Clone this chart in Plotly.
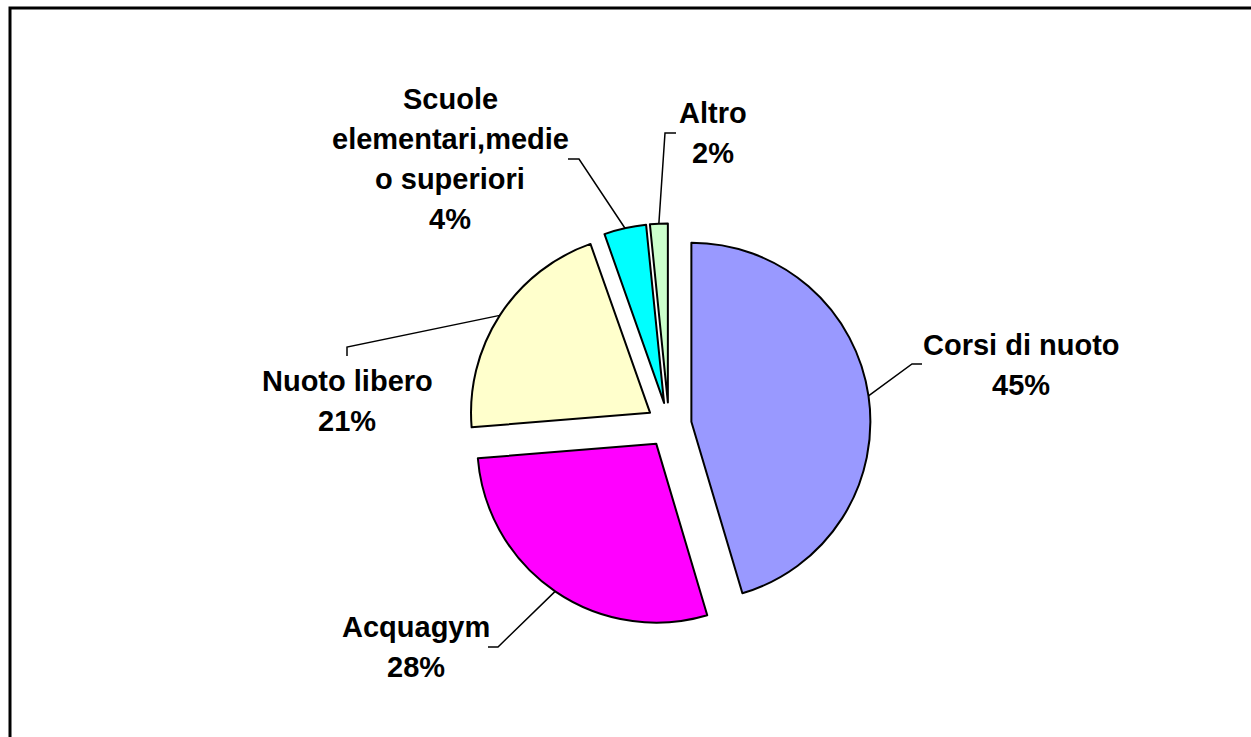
import math
import plotly.graph_objects as go

# ---- data ----
labels = ["Corsi di nuoto", "Acquagym", "Nuoto libero",
          "Scuole elementari,medie o superiori", "Altro"]
label_lines = [["Corsi di nuoto"], ["Acquagym"], ["Nuoto libero"],
               ["Scuole", "elementari,medie", "o superiori"], ["Altro"]]
values = [45.4, 28.3, 20.9, 3.8, 1.6]
colors = ["#9999FF", "#FF00FF", "#FFFFCC", "#00FFFF", "#CCFFCC"]

# ---- layout geometry (pixels) ----
W, H = 1251, 737
CX, CY = 669, 425
R = 179
PULL = 0.1263
EXT = R * (1 + PULL)
domain_x = [(CX - EXT) / W, (CX + EXT) / W]
domain_y = [1 - (CY + EXT) / H, 1 - (CY - EXT) / H]

label_pos = [(1021, 365), (416, 647), (347, 401), (450, 159), (713, 133)]
elbows = [(912, 364), (498, 647), (347, 347), (579, 159), (665, 133)]
ends = [(922, 364), (488, 647), (347, 356), (568, 159), (676, 133)]
LINE_GAP = 40
FONT = dict(family="Liberation Sans, Arial, sans-serif", size=29, color="black")


def px(x):
    return x / W


def py(y):
    return 1 - y / H


fig = go.Figure(go.Pie(
    labels=labels, values=values, sort=False, direction="clockwise",
    rotation=0, pull=[PULL] * len(values), textinfo="none", hoverinfo="none",
    marker=dict(colors=colors, line=dict(color="black", width=2)),
    domain=dict(x=domain_x, y=domain_y),
))

total = sum(values)
shapes = []
annotations = []
cum = 0.0
for i, v in enumerate(values):
    mid = (cum + v / 2) / total * 2 * math.pi
    cum += v
    sx = CX + EXT * math.sin(mid)
    sy = CY - EXT * math.cos(mid)
    ex, ey = elbows[i]
    tx, ty = ends[i]
    shapes.append(dict(
        type="path", xref="paper", yref="paper",
        path=f"M {px(sx)},{py(sy)} L {px(ex)},{py(ey)} L {px(tx)},{py(ty)}",
        line=dict(color="black", width=1.5)))
    lines = label_lines[i] + [f"{round(v / total * 100)}%"]
    n = len(lines)
    lx, ly = label_pos[i]
    for j, t in enumerate(lines):
        yy = ly + (j - (n - 1) / 2) * LINE_GAP
        annotations.append(dict(
            x=px(lx), y=py(yy), xref="paper", yref="paper", text=f"<b>{t}</b>",
            showarrow=False, xanchor="center", yanchor="middle", font=FONT))

# outer chart frame
shapes.append(dict(type="rect", xref="paper", yref="paper",
                   x0=px(10), y1=py(8), x1=1.05, y0=-0.05,
                   line=dict(color="black", width=3)))

fig.update_layout(
    width=W, height=H, margin=dict(l=0, r=0, t=0, b=0),
    showlegend=False, paper_bgcolor="white", plot_bgcolor="white",
    shapes=shapes, annotations=annotations,
)
fig.write_html("out.html", config={"displayModeBar": False},
               post_script="document.body.style.margin='0';document.body.style.overflow='hidden';")
